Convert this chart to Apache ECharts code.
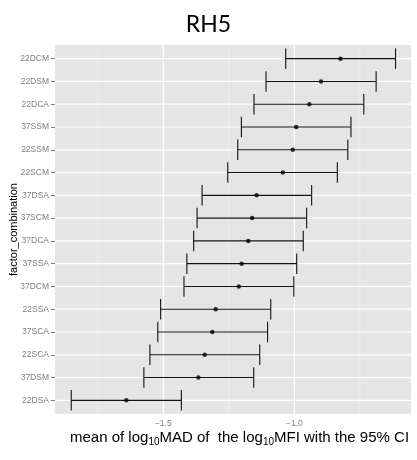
<!DOCTYPE html>
<html><head><meta charset="utf-8">
<script src="https://cdn.jsdelivr.net/npm/echarts@6/dist/echarts.min.js"></script>
<style>html,body{margin:0;padding:0;background:#fff}#c{width:417px;height:460px}</style>
</head><body><div id="c"></div>
<script>
const categories = ['22DCM','22DSM','22DCA','37SSM','22SSM','22SCM','37DSA','37SCM','37DCA','37SSA','37DCM','22SSA','37SCA','22SCA','37DSM','22DSA'];
const meanValues = [-0.824,-0.898,-0.943,-0.993,-1.006,-1.044,-1.144,-1.161,-1.176,-1.201,-1.212,-1.300,-1.313,-1.342,-1.366,-1.641];
const lowerCI   = [-1.033,-1.108,-1.154,-1.202,-1.216,-1.254,-1.352,-1.371,-1.384,-1.410,-1.421,-1.510,-1.521,-1.551,-1.574,-1.851];
const upperCI   = [-0.614,-0.688,-0.735,-0.784,-0.796,-0.836,-0.934,-0.953,-0.966,-0.991,-1.002,-1.090,-1.102,-1.132,-1.155,-1.431];
const xMajorTicks = [-1.5, -1.0];
const xMinorTicks = [-1.75, -1.25, -0.75];
const xRange = [-1.913, -0.555];

const yMin = -0.6, yMax = categories.length - 1 + 0.6;
const chart = echarts.init(document.getElementById('c'));

const errData = categories.map((c, i) => [i, lowerCI[i], upperCI[i]]);
const ptData = categories.map((c, i) => [meanValues[i], i]);

function vLine(color, width) {
  return function (params, api) {
    const v = api.value(0);
    const a = api.coord([v, yMin]), b = api.coord([v, yMax]);
    return {type: 'line', shape: {x1: a[0], y1: a[1], x2: b[0], y2: b[1]}, style: {stroke: color, lineWidth: width}};
  };
}

chart.setOption({
  animation: false,
  backgroundColor: '#fff',
  title: [{
    text: 'RH5', left: 'center', top: 8,
    textStyle: {fontFamily: 'Lato', fontSize: 23, fontWeight: 'normal', color: '#000'}
  }, {
    text: 'mean of log{s|10}MAD of  the log{s|10}MFI with the 95% CI',
    left: 65, top: 423,
    textStyle: {
      fontFamily: 'Liberation Sans', fontSize: 15, fontWeight: 'normal', color: '#000',
      rich: {s: {fontFamily: 'Liberation Sans', fontSize: 10, color: '#000', padding: [9, 0, 0, 0]}}
    }
  }],
  grid: {left: 55, right: 6, top: 45, bottom: 46, show: true, backgroundColor: '#E5E5E5', borderWidth: 0,
    containLabel: false, outerBoundsMode: 'none'},
  xAxis: {
    type: 'value', min: xRange[0], max: xRange[1],
    axisLine: {show: false},
    splitLine: {show: false},
    axisTick: {show: true, customValues: xMajorTicks, length: 3, lineStyle: {color: '#7F7F7F'}},
    axisLabel: {customValues: xMajorTicks, margin: 5, fontFamily: 'Liberation Sans', fontSize: 8.5, color: '#7F7F7F',
      formatter: v => (v < 0 ? '\u2212' : '') + Math.abs(v).toFixed(1)}
  },
  yAxis: {
    type: 'value', min: yMin, max: yMax, inverse: true,
    name: 'factor_combination', nameLocation: 'middle', nameRotate: 90, nameGap: 41, nameMoveOverlap: false,
    nameTextStyle: {fontFamily: 'Liberation Sans', fontSize: 11, color: '#000', verticalAlign: 'middle'},
    axisLine: {show: false},
    splitLine: {show: false},
    axisTick: {show: true, customValues: categories.map((c, i) => i), length: 4, lineStyle: {color: '#7F7F7F'}},
    axisLabel: {customValues: categories.map((c, i) => i), margin: 6, fontFamily: 'Liberation Sans', fontSize: 8.5, color: '#7F7F7F',
      formatter: v => categories[Math.round(v)]}
  },
  series: [
    {type: 'custom', z: 1, silent: true, data: xMinorTicks.map(v => [v]), renderItem: vLine('#F2F2F2', 0.6), clip: true},
    {type: 'custom', z: 1, silent: true, data: xMajorTicks.map(v => [v]), renderItem: vLine('#FFFFFF', 1.2), clip: true},
    {type: 'custom', z: 1, silent: true, data: categories.map((c, i) => [i]), clip: true,
      renderItem: function (params, api) {
        const i = api.value(0);
        const a = api.coord([xRange[0], i]), b = api.coord([xRange[1], i]);
        return {type: 'line', shape: {x1: a[0], y1: a[1], x2: b[0], y2: b[1]}, style: {stroke: '#FFFFFF', lineWidth: 1.2}};
      }},
    {type: 'custom', z: 3, silent: true, data: errData, encode: {x: [1, 2], y: 0},
      renderItem: function (params, api) {
        const i = api.value(0), lo = api.value(1), hi = api.value(2);
        const pl = api.coord([lo, i]), pr = api.coord([hi, i]);
        const h = api.size([0, 0.9])[1] / 2;
        const st = {stroke: '#111', lineWidth: 1.1};
        return {type: 'group', children: [
          {type: 'line', shape: {x1: pl[0], y1: pl[1], x2: pr[0], y2: pr[1]}, style: st},
          {type: 'line', shape: {x1: pl[0], y1: pl[1] - h, x2: pl[0], y2: pl[1] + h}, style: st},
          {type: 'line', shape: {x1: pr[0], y1: pr[1] - h, x2: pr[0], y2: pr[1] + h}, style: st}
        ]};
      }},
    {type: 'scatter', z: 4, silent: true, data: ptData, symbolSize: 4.5, itemStyle: {color: '#000'}}
  ]
});
</script></body></html>
